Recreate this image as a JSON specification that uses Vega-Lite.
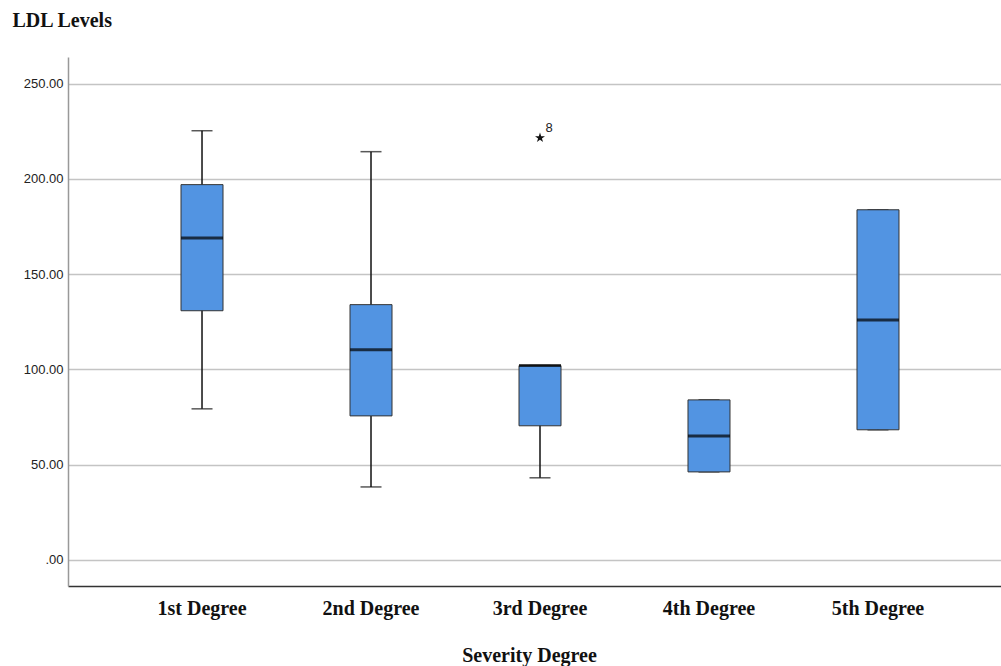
{
  "$schema": "https://vega.github.io/schema/vega-lite/v6.json",
  "autosize": {"type": "none"},
  "padding": {"left": 68, "top": 57, "right": 1, "bottom": 80},
  "width": 932,
  "height": 529,
  "background": "white",
  "config": {"view": {"stroke": null}},
  "datasets": {
    "boxes": [
      {"degree": "1st Degree", "lower": 79.3, "q1": 130.8, "median": 169, "q3": 197, "upper": 225.3},
      {"degree": "2nd Degree", "lower": 38.3, "q1": 75.6, "median": 110.3, "q3": 134, "upper": 214.3},
      {"degree": "3rd Degree", "lower": 43.1, "q1": 70.4, "median": 102, "q3": 102, "upper": 102},
      {"degree": "4th Degree", "lower": 46.2, "q1": 46.2, "median": 65.1, "q3": 84, "upper": 84},
      {"degree": "5th Degree", "lower": 68.3, "q1": 68.3, "median": 126, "q3": 183.8, "upper": 183.8}
    ],
    "outliers": [
      {"degree": "3rd Degree", "value": 221.6, "case": "8"}
    ]
  },
  "encoding": {
    "x": {
      "field": "degree",
      "type": "nominal",
      "sort": ["1st Degree", "2nd Degree", "3rd Degree", "4th Degree", "5th Degree"],
      "scale": {"type": "band", "range": [0, 944], "paddingInner": 0, "paddingOuter": 0.293},
      "axis": {
        "title": "Severity Degree",
        "labelAngle": 0,
        "ticks": false,
        "grid": false,
        "domainColor": "#333333",
        "domainWidth": 1.5,
        "labelFont": "Liberation Serif",
        "labelFontWeight": "bold",
        "labelFontSize": 20,
        "labelColor": "#111111",
        "labelPadding": 12,
        "titleFont": "Liberation Serif",
        "titleFontWeight": "bold",
        "titleFontSize": 20,
        "titleColor": "#111111",
        "titlePadding": 27,
        "titleX": 461
      }
    }
  },
  "layer": [
    {
      "data": {"name": "boxes"},
      "mark": {"type": "rule", "color": "#111111", "strokeWidth": 1.5},
      "encoding": {
        "y": {
          "field": "lower",
          "type": "quantitative",
          "scale": {"domain": [-13.7, 264], "nice": false, "zero": false},
          "axis": {
            "title": "LDL Levels",
            "titleAngle": 0,
            "titleX": -56,
            "titleY": -31,
            "titleAlign": "left",
            "titleBaseline": "alphabetic",
            "titleFont": "Liberation Serif",
            "titleFontWeight": "bold",
            "titleFontSize": 20,
            "titleColor": "#111111",
            "values": [0, 50, 100, 150, 200, 250],
            "labelExpr": "datum.value == 0 ? '.00' : format(datum.value, '.2f')",
            "labelFont": "Liberation Sans",
            "labelFontSize": 13,
            "labelColor": "#222222",
            "labelPadding": 5,
            "ticks": false,
            "grid": true,
            "gridColor": "#c4c4c4",
            "gridWidth": 1.4,
            "domainColor": "#999999",
            "domainWidth": 1.5
          }
        },
        "y2": {"field": "upper"}
      }
    },
    {
      "data": {"name": "boxes"},
      "mark": {"type": "tick", "color": "#111111", "thickness": 1.5, "size": 21},
      "encoding": {"y": {"field": "lower", "type": "quantitative"}}
    },
    {
      "data": {"name": "boxes"},
      "mark": {"type": "tick", "color": "#111111", "thickness": 1.5, "size": 21},
      "encoding": {"y": {"field": "upper", "type": "quantitative"}}
    },
    {
      "data": {"name": "boxes"},
      "mark": {"type": "bar", "size": 42, "fill": "#5294e2", "stroke": "#333333", "strokeWidth": 1},
      "encoding": {
        "y": {"field": "q1", "type": "quantitative"},
        "y2": {"field": "q3"}
      }
    },
    {
      "data": {"name": "boxes"},
      "mark": {"type": "tick", "color": "#000000", "thickness": 3, "size": 42},
      "encoding": {"y": {"field": "median", "type": "quantitative"}}
    },
    {
      "data": {"name": "outliers"},
      "mark": {
        "type": "point",
        "shape": "M0,-1L0.2245,-0.309L0.951,-0.309L0.363,0.118L0.588,0.809L0,0.382L-0.588,0.809L-0.363,0.118L-0.951,-0.309L-0.2245,-0.309Z",
        "filled": true,
        "color": "#111111",
        "size": 110,
        "opacity": 1
      },
      "encoding": {"y": {"field": "value", "type": "quantitative"}}
    },
    {
      "data": {"name": "outliers"},
      "mark": {"type": "text", "font": "Liberation Sans", "fontSize": 13, "color": "#222222", "dx": 9, "dy": -10, "align": "center"},
      "encoding": {
        "y": {"field": "value", "type": "quantitative"},
        "text": {"field": "case"}
      }
    }
  ]
}
